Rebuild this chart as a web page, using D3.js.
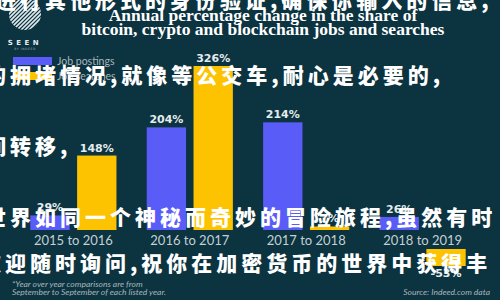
<!DOCTYPE html>
<html>
<head>
<meta charset="utf-8">
<script src="https://d3js.org/d3.v7.min.js"></script>
<style>
  body { margin: 0; background: #0b3340; }
  svg { display: block; }
</style>
</head>
<body>
<div id="chart"></div>
<script>
// data
var periods = ["2015 to 2016", "2016 to 2017", "2017 to 2018", "2018 to 2019"]
var series = ["Job postings", "Job searches"]
var postings = [29, 204, 214, 26]
var searches = [148, 326, 7, -53]
var titleLines = ["Annual percentage change in the share of", "bitcoin, crypto and blockchain jobs and searches"]
var noteLines = ["*Year over year comparisons are from", "September to September of each listed year."]
var sourceText = "Source: Indeed.com data"
var overlayLines = [
  "进行其他形式的身份验证,确保你输入的信息,",
  "的拥堵情况,就像等公交车,耐心是必要的,",
  "间转移,",
  "世界如同一个神秘而奇妙的冒险旅程,虽然有时",
  "欢迎随时询问,祝你在加密货币的世界中获得丰"
]

var width = 500, height = 300
var colors = {"Job postings": "#5a5cf7", "Job searches": "#fdc300"}

var svg = d3.select("#chart").append("svg")
  .attr("width", width)
  .attr("height", height)

svg.append("rect").attr("width", width).attr("height", height).attr("fill", "#0b3340")

// rows for bars
var rows = []
periods.forEach(function(p, i) {
  rows.push({period: p, key: series[0], value: postings[i]})
  rows.push({period: p, key: series[1], value: searches[i]})
})

var x0 = d3.scaleBand().domain(periods).range([14, 482]).paddingInner(0.26).paddingOuter(0.14)
var x1 = d3.scaleBand().domain(series).range([0, x0.bandwidth()]).paddingInner(0.16)
var y = d3.scaleLinear().domain([0, d3.max(rows, d => d.value)]).range([230, 66])
// negative bars hang below the label band
var yNeg = d3.scaleLinear().domain([0, d3.min(rows, d => d.value)]).range([249, 266])

function barTop(d) { return d.value >= 0 ? y(d.value) : yNeg(0) }
function barH(d) { return d.value >= 0 ? y(0) - y(d.value) : yNeg(d.value) - yNeg(0) }

svg.append("g").selectAll("rect")
  .data(rows)
  .join("rect")
  .attr("x", d => x0(d.period) + x1(d.key))
  .attr("y", barTop)
  .attr("width", x1.bandwidth())
  .attr("height", barH)
  .attr("fill", d => colors[d.key])

svg.append("g").selectAll("text")
  .data(rows)
  .join("text")
  .attr("x", d => x0(d.period) + x1(d.key) + x1.bandwidth() / 2)
  .attr("y", d => d.value >= 0 ? y(d.value) - 4 : yNeg(d.value) + 11)
  .attr("text-anchor", "middle")
  .attr("font-family", "DejaVu Sans")
  .attr("font-weight", "bold")
  .attr("font-size", 11)
  .attr("fill", "#e4ecee")
  .text(d => d.value + "%")

// category labels
var xAxis = svg.append("g")
  .attr("transform", "translate(0,236)")
  .call(d3.axisBottom(x0).tickSize(0).tickPadding(0))
xAxis.select(".domain").remove()
xAxis.selectAll("text")
  .attr("font-family", "Lato")
  .attr("font-size", 13)
  .attr("fill", "#c5d0d4")

// title
svg.append("g").selectAll("text")
  .data(titleLines)
  .join("text")
  .attr("x", 263)
  .attr("y", (d, i) => 21 + i * 14)
  .attr("text-anchor", "middle")
  .attr("font-family", "Liberation Serif")
  .attr("font-weight", "bold")
  .attr("font-size", 17.5)
  .attr("fill", "#ffffff")
  .text(d => d)

// legend
var legend = svg.append("g").selectAll("g")
  .data(series)
  .join("g")
  .attr("transform", (d, i) => "translate(13," + (57 + i * 15) + ")")
legend.append("rect").attr("width", 39).attr("height", 8).attr("fill", d => colors[d])
legend.append("text")
  .attr("x", 44).attr("y", 8)
  .attr("font-family", "Lato").attr("font-size", 10.5)
  .attr("fill", "#aab6bb")
  .text(d => d)

// logo
var logo = svg.append("g")
svg.append("clipPath").attr("id", "logoclip")
  .append("circle").attr("cx", 25).attr("cy", 14).attr("r", 16)
logo.append("g").attr("clip-path", "url(#logoclip)")
  .selectAll("line")
  .data(d3.range(-40, 40, 4))
  .join("line")
  .attr("x1", d => 25 + d - 20).attr("y1", 34)
  .attr("x2", d => 25 + d + 20).attr("y2", -6)
  .attr("stroke", "#dfe8ea").attr("stroke-width", 1.6)
logo.append("text")
  .attr("x", 25).attr("y", 45)
  .attr("text-anchor", "middle")
  .attr("font-family", "DejaVu Sans").attr("font-weight", "bold")
  .attr("font-size", 7).attr("letter-spacing", 3.5)
  .attr("fill", "#e4ecee")
  .text("SEEN")
logo.append("text")
  .attr("x", 25).attr("y", 50)
  .attr("text-anchor", "middle")
  .attr("font-family", "DejaVu Sans")
  .attr("font-size", 3).attr("letter-spacing", 0.6)
  .attr("fill", "#9fb0b5")
  .text("BY INDEED")

// notes
svg.append("g").selectAll("text")
  .data(noteLines)
  .join("text")
  .attr("x", 12)
  .attr("y", (d, i) => 287 + i * 8)
  .attr("font-family", "Lato").attr("font-style", "italic")
  .attr("font-size", 8.5)
  .attr("fill", "#aab6bb")
  .text(d => d)
svg.append("text")
  .attr("x", 490).attr("y", 295)
  .attr("text-anchor", "end")
  .attr("font-family", "Lato").attr("font-style", "italic")
  .attr("font-size", 8.5)
  .attr("fill", "#aab6bb")
  .text(sourceText)

// overlay text
var overlayPos = [[-5, 8], [-15, 83], [-15, 154], [-15, 225], [-20, 271]]
svg.append("g").selectAll("text")
  .data(overlayLines)
  .join("text")
  .attr("x", (d, i) => overlayPos[i][0])
  .attr("y", (d, i) => overlayPos[i][1])
  .attr("font-family", "Noto Sans CJK SC")
  .attr("font-weight", 900)
  .attr("font-size", 21)
  .attr("letter-spacing", 4)
  .attr("fill", "#ffffff")
  .text(d => d)
</script>
</body>
</html>
